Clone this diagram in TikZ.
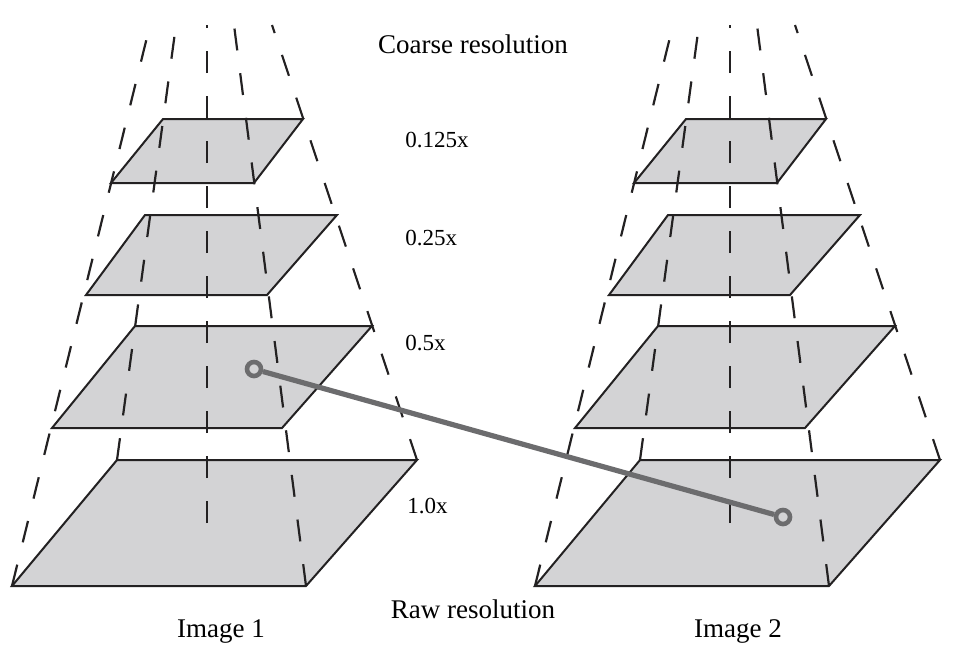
\documentclass[tikz,border=0pt]{standalone}
\usepackage{fontspec}
\setmainfont{Liberation Serif}
\definecolor{planegray}{RGB}{211,211,213}
\definecolor{edgegray}{RGB}{35,33,34}
\definecolor{linkgray}{RGB}{108,108,110}
\tikzset{
 plane/.style={fill=planegray,draw=edgegray,line width=1pt},
 ray/.style={draw=edgegray,line width=1.1pt,dash pattern=on 11pt off 11.5pt},
 link/.style={draw=linkgray,line width=2.6pt},
 ring/.style={circle,draw=linkgray,line width=2.3pt,fill=planegray,minimum size=7pt,inner sep=0pt},
 lbl/.style={font=\fontsize{13.5}{16}\selectfont,inner sep=0pt,anchor=base},
 num/.style={font=\fontsize{11.5}{14}\selectfont,inner sep=0pt,anchor=base west}
}
\begin{document}
\begin{tikzpicture}[x=0.5pt,y=-0.5pt]
 \useasboundingbox (0,0) rectangle (975,665);
 \foreach \s in {0,523}{
 \begin{scope}[shift={(\s,0)}]
 \draw[plane] (12,586)--(306,586)--(417,460)--(117,460)--cycle;
 \draw[plane] (52,428)--(282,428)--(372,326)--(135,326)--cycle;
 \draw[plane] (86,295)--(267,295)--(337,215)--(145,215)--cycle;
 \draw[plane] (111,183)--(254,183)--(303,119)--(163,119)--cycle;
 \draw[ray] (12,586)--(150,25);
 \draw[ray] (117,460)--(176,25);
 \draw[ray] (207,523)--(207,25);
 \draw[ray] (306,586)--(234,25);
 \draw[ray] (417,460)--(272,25);
 \end{scope}
 }
 \node[lbl] (coarse) at (473,53) {Coarse resolution};
 \node[lbl] (raw) at (473,618) {Raw resolution};
 \node[lbl] (img1) at (221,637) {Image 1};
 \node[lbl] (img2) at (738,637) {Image 2};
 \node[num] (s125) at (405,147) {0.125x};
 \node[num] (s25) at (405,245) {0.25x};
 \node[num] (s5) at (405,350) {0.5x};
 \node[num] (s10) at (407,513) {1.0x};
 \node[ring] (m1) at (254,369) {};
 \node[ring] (m2) at (783,517) {};
 \draw[link] (m1) -- (m2);
\end{tikzpicture}
\end{document}
